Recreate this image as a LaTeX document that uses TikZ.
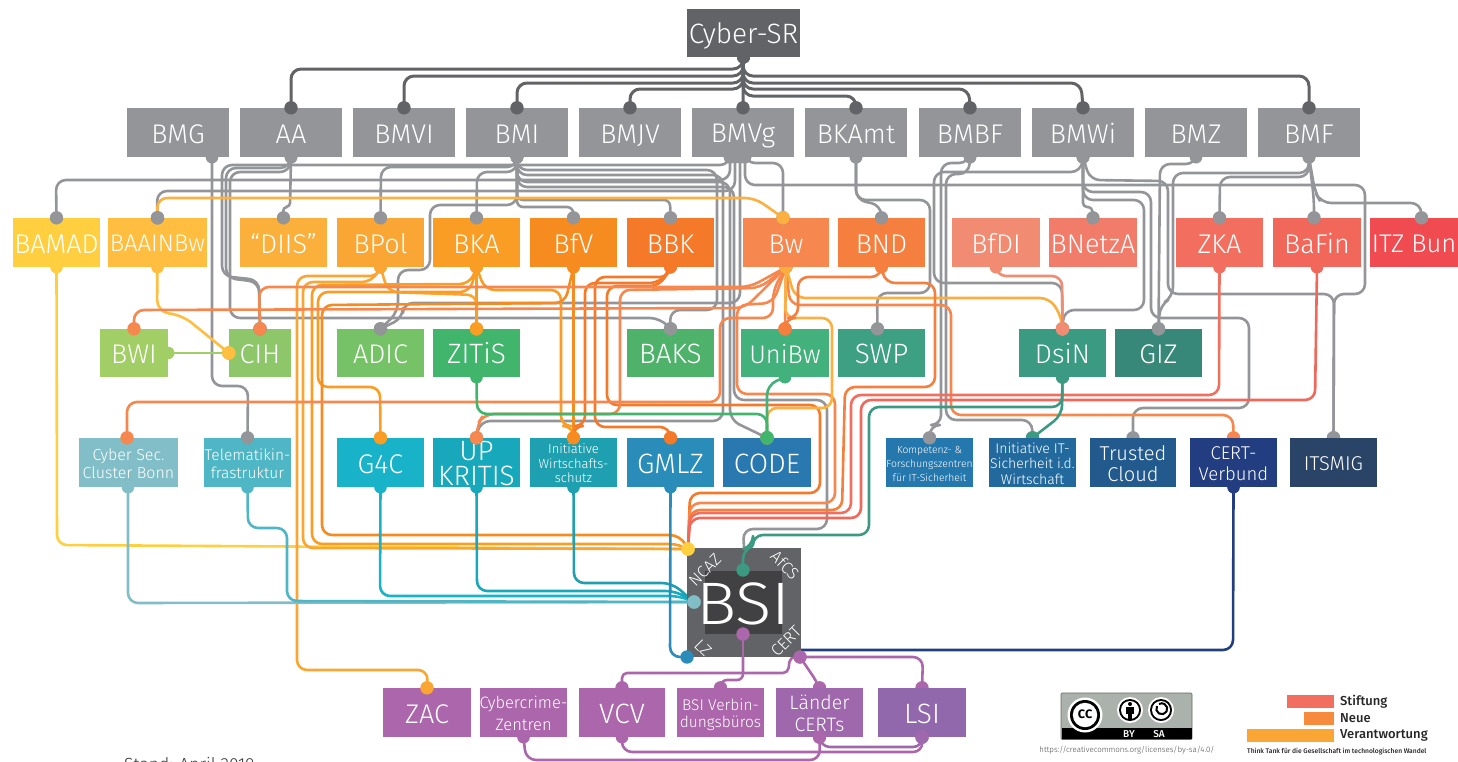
\documentclass[tikz,border=0pt]{standalone}
\usepackage{fontspec}
\setmainfont{Fira Sans}[UprightFont=* Light,BoldFont=* Medium]
\usetikzlibrary{calc}
\pgfdeclarelayer{bg}
\pgfsetlayers{bg,main}
\tikzset{
 wire/.style={line width=2.6pt,line join=round},
 bx/.style={rectangle,inner sep=0pt},
 tx/.style={inner sep=0pt,text=white,align=center},
 lbl/.style={text=white,inner sep=0pt,font=\fontsize{16.5}{16.5}\selectfont},
}
\newcommand\mkbox[9]{%
 \definecolor{tmpc}{HTML}{#6}%
 \node[bx,fill=tmpc,minimum width={(#4-#2)*1pt},minimum height={(#5-#3)*1pt}] (#1) at ({(#2+#4)/2},{(#3+#5)/2}) {};
 \node[tx,font=\fontsize{#7}{#8}\selectfont] (#1t) at ([yshift=-1.2pt]#1.center) {\rule{0pt}{.85em}#9\rule[-.16em]{0pt}{.16em}};}
\newcommand\cn[5][10pt]{%
 \definecolor{tmpw}{HTML}{#2}%
 \begin{pgfonlayer}{bg}\draw[wire,draw=tmpw,rounded corners=#1] #3 #4 #5;\fill[tmpw] #3 circle (6.3);\end{pgfonlayer}%
 \fill[tmpw] #5 circle (6.7);}
% end dot behind the box
\newcommand\cnh[5][10pt]{%
 \definecolor{tmpw}{HTML}{#2}%
 \begin{pgfonlayer}{bg}\draw[wire,draw=tmpw,rounded corners=#1] #3 #4 #5;\fill[tmpw] #3 circle (6.3);\fill[tmpw] #5 circle (6.7);\end{pgfonlayer}}
% no end dot
\newcommand\cnn[5][10pt]{%
 \definecolor{tmpw}{HTML}{#2}%
 \begin{pgfonlayer}{bg}\draw[wire,draw=tmpw,rounded corners=#1] #3 #4 #5;\fill[tmpw] #3 circle (6.3);\end{pgfonlayer}}
% on top of the boxes
\newcommand\cnt[5][10pt]{%
 \definecolor{tmpw}{HTML}{#2}%
 \draw[wire,draw=tmpw,rounded corners=#1] #3 #4 #5;\fill[tmpw] #3 circle (6.7);\fill[tmpw] #5 circle (6.7);}
\newcommand\dt[2]{\definecolor{tmpw}{HTML}{#1}\fill[tmpw] #2 circle (6.7);}
\begin{document}
\begin{tikzpicture}[x=1pt,y=-1pt]
\useasboundingbox (0,0) rectangle (1458,761);
% top
\mkbox{CSR}{687}{9}{800}{57}{626366}{28}{29}{Cyber-SR}
% ministries
\mkbox{BMG}{127}{108}{229}{157}{939598}{27}{28}{BMG}
\mkbox{AA}{240}{108}{342}{157}{939598}{27}{28}{AA}
\mkbox{BMVI}{353}{108}{455}{157}{939598}{27}{28}{BMVI}
\mkbox{BMI}{466}{108}{568}{157}{939598}{27}{28}{BMI}
\mkbox{BMJV}{579}{108}{681}{157}{939598}{27}{28}{BMJV}
\mkbox{BMVg}{692}{108}{794}{157}{939598}{27}{28}{BMVg}
\mkbox{BKAmt}{805}{108}{907}{157}{939598}{27}{28}{BKAmt}
\mkbox{BMBF}{919}{108}{1021}{157}{939598}{27}{28}{BMBF}
\mkbox{BMWi}{1032}{108}{1134}{157}{939598}{27}{28}{BMWi}
\mkbox{BMZ}{1145}{108}{1247}{157}{939598}{27}{28}{BMZ}
\mkbox{BMF}{1258}{108}{1360}{157}{939598}{27}{28}{BMF}
% row 3
\mkbox{BAMAD}{13}{218}{100}{267}{FFCF3F}{27}{28}{BAMAD}
\mkbox{BAAINBw}{108}{218}{207}{267}{FFBE3F}{24}{25}{BAAINBw}
\mkbox{DIIS}{240}{218}{327}{267}{FBB03B}{27}{28}{“DIIS”}
\mkbox{BPol}{337}{218}{424}{267}{FAA634}{27}{28}{BPol}
\mkbox{BKA}{433}{218}{520}{267}{F99D25}{27}{28}{BKA}
\mkbox{BfV}{530}{218}{617}{267}{F68B1F}{27}{28}{BfV}
\mkbox{BBK}{627}{218}{714}{267}{F47A2A}{27}{28}{BBK}
\mkbox{Bw}{743}{218}{829}{267}{F6874E}{27}{28}{Bw}
\mkbox{BND}{838}{218}{925}{267}{F47F3E}{27}{28}{BND}
\mkbox{BfDI}{952}{218}{1040}{267}{F18C72}{27}{28}{BfDI}
\mkbox{BNetzA}{1049}{218}{1137}{267}{F07C69}{27}{28}{BNetzA}
\mkbox{ZKA}{1176}{218}{1263}{267}{F26E5E}{27}{28}{ZKA}
\mkbox{BaFin}{1273}{218}{1361}{267}{F1675A}{27}{28}{BaFin}
\mkbox{ITZ}{1370}{218}{1473}{267}{EF4B50}{25.5}{28}{ITZ Bund}
% row 4
\mkbox{BWI}{100}{329}{168}{377}{A1CE65}{27}{28}{BWI}
\mkbox{CIH}{229}{329}{291}{377}{8DC76A}{27}{28}{CIH}
\mkbox{ADIC}{337}{329}{424}{377}{76C267}{27}{28}{ADIC}
\mkbox{ZITiS}{433}{329}{520}{377}{40B56B}{28}{29}{ZITiS}
\mkbox{BAKS}{627}{329}{714}{377}{4EB26B}{28}{29}{BAKS}
\mkbox{UniBw}{741}{329}{829}{377}{42B17C}{25.5}{28}{UniBw}
\mkbox{SWP}{838}{329}{925}{377}{3DA083}{28}{29}{SWP}
\mkbox{DsiN}{1019}{329}{1106}{377}{3B9A82}{27}{28}{DsiN}
\mkbox{GIZ}{1115}{329}{1202}{377}{378878}{27}{28}{GIZ}
% row 5
\mkbox{CSC}{79}{438}{178}{487}{82BEC8}{16}{18}{Cyber Sec.\\Cluster Bonn}
\mkbox{TEL}{204}{438}{291}{487}{4FB6C6}{15.5}{18}{Telematikin-\\frastruktur}
\mkbox{GFC}{337}{438}{424}{487}{18B2C9}{27}{28}{G4C}
\mkbox{UPK}{433}{438}{520}{487}{17A8BC}{28}{25}{UP\\KRITIS}
\mkbox{IWS}{530}{438}{617}{487}{1FA0B0}{13}{14.5}{Initiative\\Wirtschafts-\\schutz}
\mkbox{GMLZ}{627}{438}{714}{487}{2A8CB8}{28}{29}{GMLZ}
\mkbox{CODE}{723}{438}{811}{487}{2A78B0}{28}{29}{CODE}
\mkbox{KFZ}{886}{438}{973}{487}{2578AE}{10.3}{14}{Kompetenz- \&\\Forschungszentren\\für IT-Sicherheit}
\mkbox{IIT}{989}{438}{1076}{487}{226A9E}{14}{15.5}{Initiative IT-\\Sicherheit i.d.\\Wirtschaft}
\mkbox{TRC}{1090}{438}{1176}{487}{235A8E}{20}{21}{Trusted\\Cloud}
\mkbox{CVB}{1190}{438}{1277}{487}{233E80}{18.5}{21}{CERT-\\Verbund}
\mkbox{ITS}{1290}{438}{1377}{487}{2A4468}{20}{21}{ITSMIG}
% BSI
\mkbox{BSI}{687}{548}{801}{657}{626366}{10}{10}{}
\mkbox{BSIi}{705}{571}{782}{634}{414042}{60}{62}{\scalebox{1.12}[1]{BSI}}
\coordinate (ncaz) at (688,549);
\coordinate (afcs) at (743,570);
\coordinate (bsiw) at (694,602);
\coordinate (lzp) at (687,657);
\coordinate (certp) at (800,657);
\coordinate (bsib) at (743,634);
\coordinate (bsir) at (801,650);
\node[lbl,rotate=45] (nNCAZ) at (705,570) {NCAZ};
\node[lbl,rotate=-45] (nAfCS) at (785,565) {AfCS};
\node[lbl,rotate=-45] (nLZ) at (703,648) {LZ};
\node[lbl,rotate=45] (nCERT) at (786,641) {CERT};
% bottom
\mkbox{ZAC}{383}{688}{471}{737}{AC66AB}{27}{28}{ZAC}
\mkbox{CCZ}{480}{688}{567}{737}{AC66AB}{16.5}{22}{Cybercrime-\\Zentren}
\mkbox{VCV}{579}{688}{665}{737}{AC66AB}{28}{29}{VCV}
\mkbox{BVB}{677}{688}{764}{737}{AC66AB}{15.5}{17}{BSI Verbin-\\dungsbüros}
\mkbox{LCT}{776}{688}{863}{737}{A068AC}{19.5}{22}{Länder\\CERTs}
\mkbox{LSI}{878}{688}{966}{737}{9268AC}{28}{29}{LSI}
% ---- Cyber-SR
\tikzset{wire/.append style={line width=3pt}}
\cn{626366}{(CSR.south)}{-- (743,69) -- (291,69) --}{(AA.north)}
\cn{626366}{(CSR.south)}{-- (743,76) -- (404,76) --}{(BMVI.north)}
\cn{626366}{(CSR.south)}{-- (743,83) -- (517,83) --}{(BMI.north)}
\cn{626366}{(CSR.south)}{-- (743,89) -- (630,89) --}{(BMJV.north)}
\cn{626366}{(CSR.south)}{--}{(BMVg.north)}
\cn{626366}{(CSR.south)}{-- (743,96) -- (856,96) --}{(BKAmt.north)}
\cn{626366}{(CSR.south)}{-- (743,89) -- (969,89) --}{(BMBF.north)}
\cn{626366}{(CSR.south)}{-- (743,83) -- (1081,83) --}{(BMWi.north)}
\cn{626366}{(CSR.south)}{-- (743,76) -- (1309,76) --}{(BMF.north)}
\tikzset{wire/.append style={line width=2.6pt}}
% ---- grey
\cn{939598}{([xshift=34]BMG.south)}{-- (212,386) -- (248,386) --}{(TEL.north)}
\cn[4pt]{939598}{(AA.south)}{-- (290,207) -- (283,207) --}{(DIIS.north)}
\cn{939598}{(AA.south)}{-- (290,172) -- (230,172) -- (230,318) -- (660,318) --}{(BAKS.north)}
\cn{939598}{(AA.south)}{-- (290,168) -- (226,168) -- (226,278) -- (259,282) --}{(CIH.north)}
\cn{939598}{([xshift=-13]BMVg.south)}{-- (730,165) -- (222,165) -- (222,276) -- (259,280) --}{(CIH.north)}
\cn{939598}{(BMI.south)}{-- (517,167) -- (381,167) --}{(BPol.north)}
\cn{939598}{(BMI.south)}{-- (517,172) -- (477,172) --}{(BKA.north)}
\cn[6pt]{939598}{(BMI.south)}{-- (517,207) -- (573,207) --}{(BfV.north)}
\cn[6pt]{939598}{(BMI.south)}{-- (517,200) -- (670,200) --}{(BBK.north)}
\cn{939598}{(BMI.south)}{-- (517,205) -- (430,205) -- (430,270) -- (398,270) -- (398,312) --}{(ADIC.north)}
\cn{939598}{(BMI.south)}{-- (517,170) -- (717,170) -- (717,310) -- (670,310) --}{(BAKS.north)}
\cn{939598}{(BMI.south)}{-- (517,175) -- (723,175) -- (723,421) -- (480,421) --}{(UPK.north)}
\cn{939598}{(BMI.south)}{-- (517,182) -- (730,182) -- (730,420) --}{(CODE.north)}
\cnn{939598}{(BMI.south)}{-- (517,187) -- (734,187) -- (734,400) -- (827,400) -- (827,529) -- (743,529) --}{(BSI.north)}
\cn{939598}{([xshift=-3]BMVg.south)}{-- (740,303) -- (403,303) -- (403,318) --}{(ADIC.north)}
\cn{939598}{([xshift=-13]BMVg.south)}{-- (730,180) -- (56,180) --}{(BAMAD.north)}
\cn{939598}{([xshift=-8]BMVg.south)}{-- (735,191) -- (157,191) --}{(BAAINBw.north)}
\cnh{939598}{([xshift=2]BMVg.south)}{-- (745,185) -- (1365,185) -- (1365,294) -- (1334,294) --}{(ITS.north)}
\cn{939598}{([xshift=2]BMVg.south)}{-- (745,163) -- (783,163) --}{([xshift=-3]Bw.north)}
\cn{939598}{(BKAmt.south)}{-- (856,200) -- (881,205) --}{(BND.north)}
\cn{939598}{(BKAmt.south)}{-- (856,200) -- (930,200) -- (930,293) -- (877,293) --}{([xshift=-4]SWP.north)}
\cn{939598}{(BMBF.south)}{-- (969,163) -- (941,163) -- (941,425) -- (930,425) --}{(KFZ.north)}
\cnh{939598}{(BMBF.south)}{-- (969,174) -- (946,174) -- (946,420) -- (1032,420) --}{(IIT.north)}
\cn{939598}{(BMWi.south)}{-- (1081,172) -- (934,172) -- (934,283) -- (1062,283) --}{(DsiN.north)}
\cn[4pt]{939598}{(BMWi.south)}{-- (1083,207) -- (1092,207) --}{(BNetzA.north)}
\cn{939598}{(BMWi.south)}{-- (1083,200) -- (1144,200) -- (1144,310) -- (1064,310) --}{(DsiN.north)}
\cnh{939598}{(BMWi.south)}{-- (1083,192) -- (1151,192) -- (1151,318) -- (1249,318) -- (1249,408) -- (1133,408) --}{(TRC.north)}
\cnh{939598}{(BMWi.south)}{-- (1090,180) -- (1168,181) -- (1168,294) -- (1334,294) --}{(ITS.north)}
\cn{939598}{(BMZ.south)}{-- (1196,164) -- (1160,164) --}{(GIZ.north)}
\cn{939598}{(BMF.south)}{-- (1309,173) -- (1173,173) -- (1173,297) -- (1160,305) --}{(GIZ.north)}
\cn{939598}{(BMF.south)}{-- (1309,177) -- (1220,177) --}{(ZKA.north)}
\cn{939598}{(BMF.south)}{-- (1314,200) --}{([xshift=-3]BaFin.north)}
\cn{939598}{(BMF.south)}{-- (1315,192) -- (1321,203) -- (1421,203) --}{(ITZ.north)}
% ---- yellow
\cn{FBB040}{(BAAINBw.north)}{-- (157,198) -- (755,198) --}{([xshift=-3]Bw.north)}
\dt{939598}{(BAAINBw.north)}
\cn{FFCF3F}{(BAMAD.south)}{-- (57,545) --}{(ncaz)}
\cn[12pt]{FFBE3F}{(BAAINBw.south)}{-- (157,312) -- (182,315) --}{(CIH.west)}
\cn{A1CE65}{(BWI.east)}{--}{(CIH.west)}
\dt{FFBE3F}{(CIH.west)}
% ---- row 3 orange
\cn{FAA634}{(BPol.south)}{-- (380,276) -- (297,276) -- (297,670) -- (428,670) --}{(ZAC.north)}
\cnn{FAA634}{(BPol.south)}{-- (372,282) -- (303,282) -- (303,548) --}{(ncaz)}
\cn{FAA634}{(BPol.south)}{-- (388,292) -- (477,295) --}{(ZITiS.north)}
\cnn{F99D25}{(BKA.south)}{-- (470,284) -- (312,285) -- (312,544) -- (680,544) --}{(ncaz)}
\cn{F99D25}{(BKA.south)}{-- (470,292) -- (318,292) -- (318,387) -- (380,387) --}{(GFC.north)}
\cn{F99D25}{(BKA.south)}{--}{(ZITiS.north)}
\cnn{F99D25}{(BKA.south)}{-- (485,290) -- (561,290) -- (561,426) -- (573,426) --}{(IWS.north)}
\cnn{F68B1F}{(BfV.south)}{-- (565,303) -- (322,305) -- (322,535) -- (680,535) --}{(ncaz)}
\cn{F68B1F}{(BfV.south)}{--}{(IWS.north)}
\cn{F47A2A}{(BBK.south)}{-- (670,277) -- (595,277) -- (595,427) -- (670,427) --}{(GMLZ.north)}
\cnn{F47A2A}{(BBK.south)}{-- (660,283) -- (585,283) -- (585,426) -- (573,426) --}{(IWS.north)}
\cnn{F47A2A}{(BBK.south)}{-- (660,286) -- (607,286) -- (607,405) -- (820,405) -- (820,493) -- (690,493) --}{(ncaz)}
% ---- Bw
\cn{F6874E}{(Bw.south)}{-- (750,287) -- (259,287) --}{(CIH.north)}
\cn{F6874E}{(Bw.south)}{-- (745,308) -- (134,310) --}{(BWI.north)}
\cn{F6874E}{(Bw.south)}{-- (773,290) -- (773,318) -- (720,318) -- (720,402) -- (127,402) --}{([xshift=-1.5]CSC.north)}
\cn{F6874E}{(Bw.south)}{-- (760,288) -- (620,290) -- (620,414) -- (484,414) -- (477,425) --}{(UPK.north)}
\cn{F6874E}{(Bw.south)}{--}{(UniBw.north)}
\cnn{F6874E}{(Bw.south)}{-- (773,303) -- (737,305) -- (737,394) -- (835,394) -- (835,503) -- (690,503) --}{(ncaz)}
\cnh{F6874E}{(Bw.south)}{-- (790,305) -- (951,305) -- (951,415) -- (1233,415) --}{(CVB.north)}
\cn{FBB040}{(Bw.south)}{-- (785,318) -- (832,318) -- (832,408) -- (767,408) --}{(CODE.north)}
\cn{FAAE3E}{(Bw.south)}{-- (795,298) -- (1050,298) -- (1062,318) --}{(DsiN.north)}
% ---- BND etc
\cn{F47F3E}{(BND.south)}{-- (881,277) -- (798,277) -- (798,318) -- (785,318) --}{(UniBw.north)}
\cnn{F47F3E}{(BND.south)}{-- (885,283) -- (935,283) -- (935,387) -- (845,387) -- (842,510) -- (690,510) --}{(ncaz)}
\cn{F18C72}{(BfDI.south)}{-- (996,276) -- (1062,276) --}{(DsiN.north)}
\cnn{F26E5E}{(ZKA.south)}{-- (1219,395) -- (851,395) -- (851,513) -- (690,513) --}{(ncaz)}
\cnn{F1675A}{(BaFin.south)}{-- (1315,400) -- (861,400) -- (861,518) -- (690,518) --}{(ncaz)}
% ---- row 4
\cnt{3D9A82}{(DsiN.south)}{-- (1062,407) -- (869,407) -- (869,535) -- (753,535) -- (753,546) -- (743,549) --}{(afcs)}
\fill[white,opacity=0] (DsiN.south) circle (1);
\cnh{3B9A82}{(DsiN.south)}{-- (1062,415) -- (1045,428) --}{(IIT.north)}
\cn{42B17C}{(UniBw.south)}{-- (767,385) --}{(CODE.north)}
\cn{40B56B}{(ZITiS.south)}{-- (477,414) -- (767,414) --}{(CODE.north)}
\dt{FFCF3F}{(ncaz)}
% ---- row 5
\cn{82BEC8}{([xshift=-.5]CSC.south)}{-- (128,603) --}{(bsiw)}
\cnn{4FB6C6}{(TEL.south)}{-- (248,528) -- (287,528) -- (287,601) --}{(bsiw)}
\cnn{18B2C9}{(GFC.south)}{-- (380,596) -- (680,596) --}{(bsiw)}
\cnn{17A8BC}{(UPK.south)}{-- (477,591) -- (676,591) --}{(bsiw)}
\cnn{1FA0B0}{(IWS.south)}{-- (574,583) -- (672,583) --}{(bsiw)}
\dt{82BEC8}{(bsiw)}
\cn{2A8CB8}{(GMLZ.south)}{-- (670,657) --}{(lzp)}
\cnn{233E80}{(CVB.south)}{-- (1233,650) --}{(bsir)}
% ---- bottom
\cnh{AC66AB}{(certp)}{-- (923,657) --}{(LSI.north)}
\cnh{AC66AB}{(certp)}{-- (819,685) --}{(LCT.north)}
\cnh[5pt]{AC66AB}{(certp)}{-- (790,657) -- (788,673) -- (622,673) --}{(VCV.north)}
\cnh[6pt]{AC66AB}{(bsib)}{-- (743,680) -- (721,680) --}{(BVB.north)}
\draw[wire,draw=tmpw] (bsib) -- (743,660);
\dt{AC66AB}{(bsib)}
\dt{AC66AB}{(certp)}
\cn{AC66AB}{(VCV.south)}{-- (622,752) -- (923,752) --}{(LSI.south)}
\cn{A068AC}{(LCT.south)}{-- (820,747) -- (923,747) --}{(LSI.south)}
\cn{AC66AB}{(CCZ.south)}{-- (526,760) -- (820,760) --}{(LCT.south)}
% footer left
\node[anchor=base west,inner sep=0pt,text=black!80,font=\fontsize{17.5}{18}\selectfont] (stand) at (124,770) {Stand: April 2019};
% CC badge
\definecolor{ccg}{HTML}{AAB2AB}
\fill[ccg,draw=black!60,line width=.6pt,rounded corners=1pt] (1061,693) rectangle (1192,739.5);
\fill[black] (1061.5,728) rectangle (1191.5,739.2);
\fill[white] (1085,715) circle (17.5);
\fill[black] (1085,715) circle (15);
\fill[white] (1085,715) circle (12.2);
\node[inner sep=0pt,font=\fontsize{16}{16}\bfseries\selectfont,text=black] (cct) at (1085,714) {cc};
\fill[white] (1130,710) circle (13);
\fill[black] (1130,710) circle (11);
\fill[white] (1130,710) circle (9);
\fill[black] (1130,704) circle (2);
\fill[black] (1126,707) rectangle (1134,714);
\fill[black] (1128,714) rectangle (1132,720);
\fill[white] (1161,710) circle (13);
\fill[black] (1161,710) circle (11);
\fill[white] (1161,710) circle (9);
\draw[black,line width=2pt] (1157,706) arc (210:-120:5.5);
\node[inner sep=0pt,text=white,font=\fontsize{10}{10}\bfseries\selectfont] (ccby) at (1129,734) {BY};
\node[inner sep=0pt,text=white,font=\fontsize{10}{10}\bfseries\selectfont] (ccsa) at (1159,734) {SA};
\node[inner sep=0pt,text=black!70,font=\fontsize{7.9}{8}\selectfont] (ccurl) at (1127,750) {https://creativecommons.org/licenses/by-sa/4.0/};
% logo
\definecolor{la}{HTML}{F26E5E}\definecolor{lb}{HTML}{F68B3E}\definecolor{lc}{HTML}{FAA634}
\fill[la] (1287,695) rectangle (1334,708);
\fill[lb] (1304,712) rectangle (1334,725);
\fill[lc] (1247,729) rectangle (1334,742);
\node[anchor=west,inner sep=0pt,text=black!85,font=\fontsize{13}{13}\bfseries\selectfont] (ls) at (1340,702) {Stiftung};
\node[anchor=west,inner sep=0pt,text=black!85,font=\fontsize{13}{13}\bfseries\selectfont] (ln) at (1340,718.5) {Neue};
\node[anchor=west,inner sep=0pt,text=black!85,font=\fontsize{13}{13}\bfseries\selectfont] (lv) at (1340,735.5) {Verantwortung};
\node[anchor=west,inner sep=0pt,text=black!85,font=\fontsize{6.7}{7}\bfseries\selectfont] (lt) at (1247,752) {Think Tank für die Gesellschaft im technologischen Wandel};
\end{tikzpicture}
\end{document}
